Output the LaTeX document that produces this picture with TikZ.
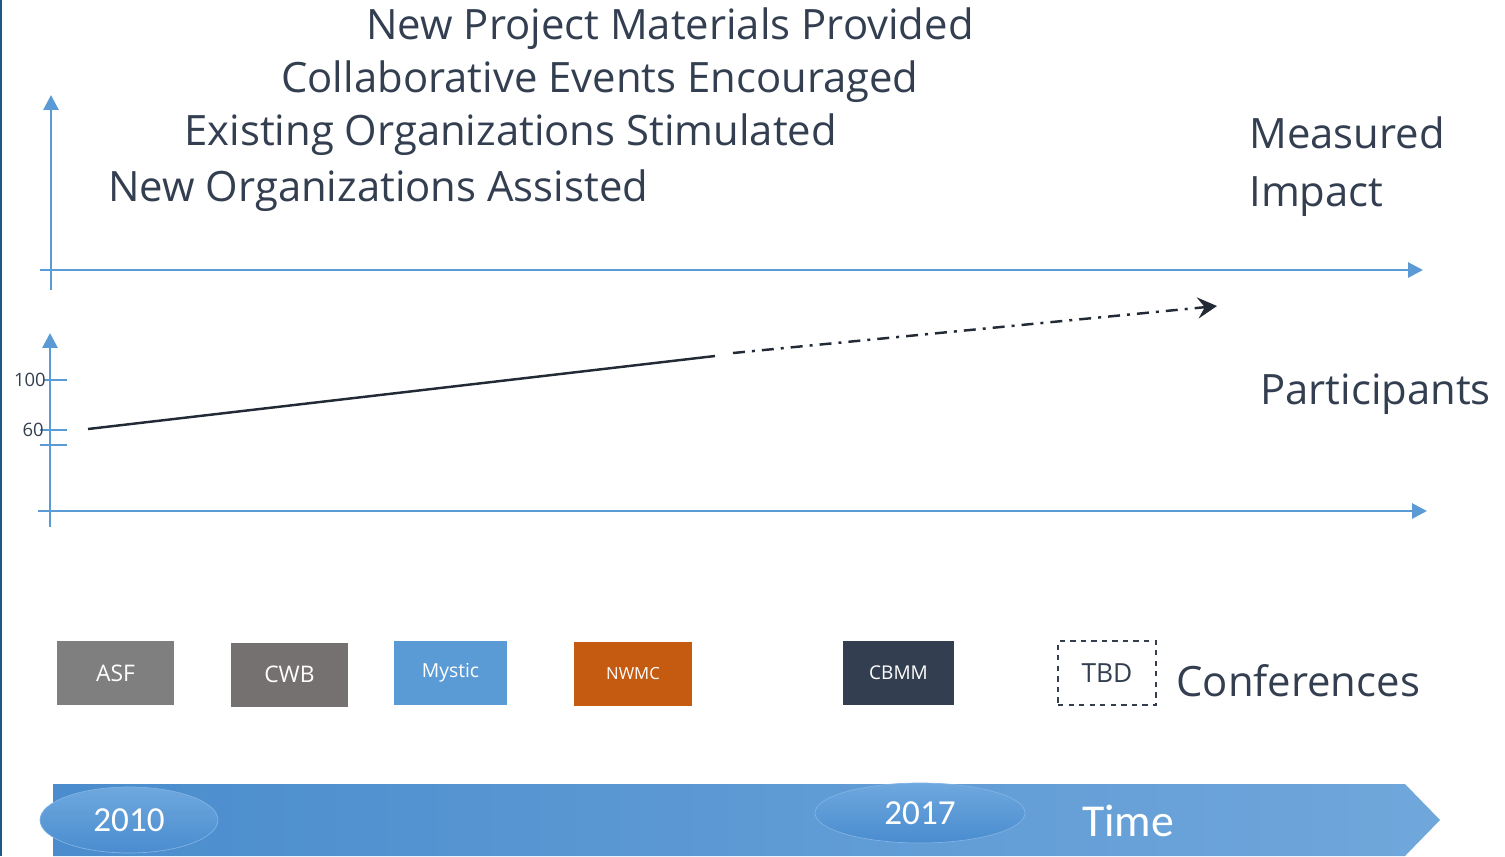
\documentclass[tikz,border=0pt]{standalone}
\usepackage{fontspec}
\setmainfont{Open Sans}
\newfontfamily\barfont{Carlito}
\usetikzlibrary{arrows.meta,shapes.geometric}
\definecolor{axisblue}{HTML}{5B9BD5}
\definecolor{slate}{HTML}{333F50}
\definecolor{trendink}{HTML}{222A35}
\definecolor{edgeblue}{HTML}{1B5886}
\definecolor{asfgray}{HTML}{7F7F7F}
\definecolor{cwbgray}{HTML}{767171}
\definecolor{nwmcorange}{HTML}{C55A11}
\definecolor{barleft}{HTML}{4A8CCD}
\definecolor{barright}{HTML}{70A7DB}
\definecolor{ovaltop}{HTML}{6EA8DE}
\definecolor{ovalbot}{HTML}{4A8CCF}
\definecolor{ovaledge}{HTML}{80B3E3}

\begin{document}
\begin{tikzpicture}[x=0.02cm, y=-0.02cm,
  axis/.style={axisblue, line width=1.6pt},
  axistip/.style={-{Triangle[length=8.5pt,width=8.5pt]}},
  bigtext/.style={anchor=base west, inner sep=0pt, text=slate, font=\fontsize{23.8}{28}\selectfont},
  ticklabel/.style={anchor=east, inner sep=0pt, text=slate, font=\fontsize{10.5}{12}\selectfont},
  trend/.style={trendink, line width=1.4pt},
  confbox/.style={minimum height=1.28cm, inner sep=0pt, text=white},
  yearoval/.style={ellipse, inner sep=0pt, top color=ovaltop, bottom color=ovalbot,
    draw=ovaledge, line width=0.4pt, text=white, font=\barfont\fontsize{20}{24}\selectfont}]

\useasboundingbox (0,0) rectangle (1505,856);

% Frame line on the left
\draw[edgeblue, line width=1.2pt] (1,0) -- (1,856);

% Upper axes (measured impact)
\coordinate (ubase) at (51,290);
\coordinate (utop) at (51,95);
\coordinate (uleft) at (40,270);
\coordinate (uright) at (1423,270);
\draw[axis, axistip] (ubase) -- (utop);
\draw[axis, axistip] (uleft) -- (uright);

\node[bigtext] (materials) at (366,39.5) {New Project Materials Provided};
\node[bigtext] (events) at (281,92.5) {Collaborative Events Encouraged};
\node[bigtext] (existing) at (184,145.5) {Existing Organizations Stimulated};
\node[bigtext] (neworgs) at (108,201.5) {New Organizations Assisted};
\node[bigtext] (measured) at (1249,148.5) {Measured};
\node[bigtext] (impact) at (1249,206) {Impact};

% Lower axes (participants)
\coordinate (lbase) at (50,527);
\coordinate (ltop) at (50,333);
\coordinate (lleft) at (38,511);
\coordinate (lright) at (1427,511);
\draw[axis, axistip] (lbase) -- (ltop);
\draw[axis, axistip] (lleft) -- (lright);
\draw[axis] (44,380) -- (67,380);
\draw[axis] (40,430) -- (67,430);
\draw[axis] (40,445) -- (67,445);
\node[ticklabel] (hundred) at (46,380) {100};
\node[ticklabel] (sixty) at (44,430) {60};

% Participant trend, then the projection
\coordinate (p0) at (88,429);
\coordinate (p1) at (715,356);
\coordinate (p2) at (733,353);
\coordinate (p3) at (1217,306);
\draw[trend] (p0) -- (p1);
\draw[trend, dash pattern=on 6.8pt off 4pt on 1.7pt off 4pt,
  -{Stealth[length=11pt,width=12pt,inset=4pt]}] (p2) -- (p3);
\node[bigtext] (participants) at (1260,404.5) {Participants};

% Conferences
\node[confbox, fill=asfgray, minimum width=2.34cm, font=\fontsize{13}{15}\selectfont] (asf) at (115.5,673) {ASF};
\node[confbox, fill=cwbgray, minimum width=2.34cm, font=\fontsize{13}{15}\selectfont] (cwb) at (289.5,674.5) {CWB};
\node[confbox, fill=axisblue, minimum width=2.26cm, font=\fontsize{11}{13}\selectfont] (mystic) at (450.5,673) {Mystic};
\node[confbox, fill=nwmcorange, minimum width=2.36cm, font=\fontsize{9.5}{11}\selectfont] (nwmc) at (633,674) {NWMC};
\node[confbox, fill=slate, minimum width=2.22cm, font=\fontsize{10.8}{13}\selectfont] (cbmm) at (898.5,673) {CBMM};
\node[confbox, draw=slate, dashed, line width=0.8pt, minimum width=1.96cm, text=slate,
  font=\fontsize{15}{18}\selectfont] (tbd) at (1107,673) {TBD};
\node[bigtext] (conferences) at (1176,696) {Conferences};

% Time bar
\shade[left color=barleft, right color=barright]
  (53,784) -- (1405,784) -- (1440,820) -- (1405,856) -- (53,856) -- cycle;
\node[yearoval, minimum width=3.56cm, minimum height=1.32cm] (y2010) at (129,820) {2010};
\node[yearoval, minimum width=4.2cm, minimum height=1.2cm] (y2017) at (920,813) {2017};
\node[text=white, font=\barfont\fontsize{26}{30}\selectfont] (time) at (1128,821) {Time};

\end{tikzpicture}
\end{document}
